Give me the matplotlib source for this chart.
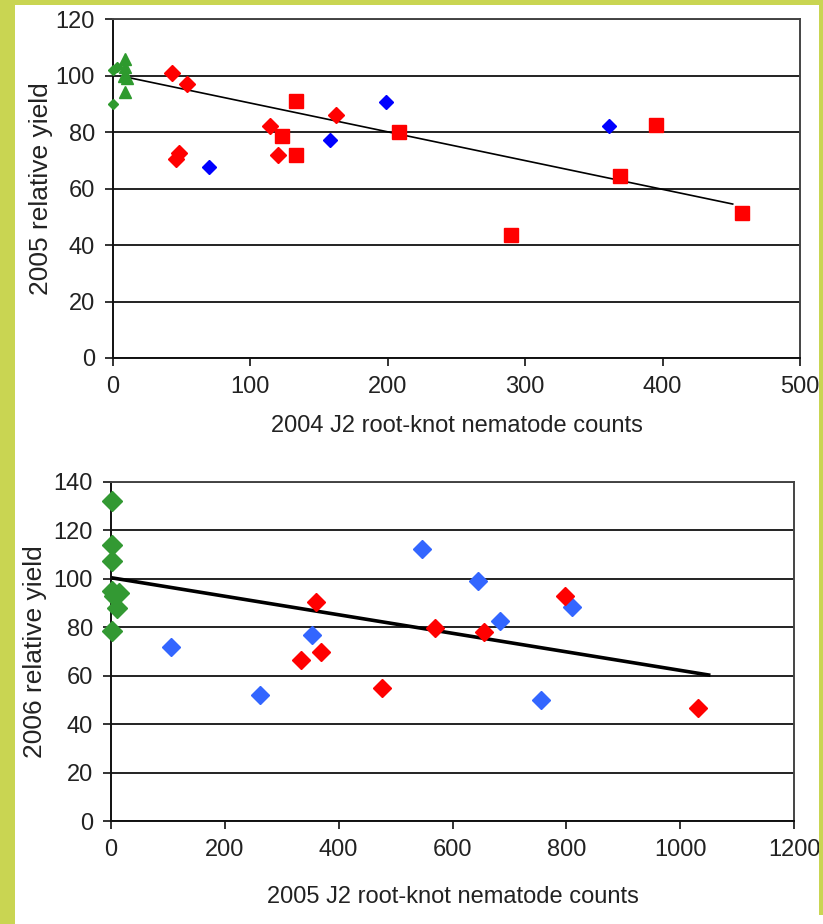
import matplotlib
matplotlib.use("Agg")
import matplotlib.pyplot as plt
from matplotlib.patches import Polygon

plt.rcParams['font.family'] = ['Liberation Sans Narrow', 'Liberation Sans', 'DejaVu Sans']

# --- top panel: 2004 counts vs 2005 yield ---
top_green_tri_x = [9, 9, 8, 10, 9]
top_green_tri_y = [106, 103, 100, 99, 94]
top_green_dot_x = [0, 3, 0]
top_green_dot_y = [102, 103, 90]
top_red_dia_x = [43, 54, 48, 46, 114, 120, 162]
top_red_dia_y = [101, 97, 72.5, 70.5, 82, 72, 86]
top_blue_dia_x = [70, 158, 199, 361]
top_blue_dia_y = [67.5, 77, 90.5, 82]
top_red_sq_x = [133, 123, 133, 208, 395, 369, 290, 458]
top_red_sq_y = [91, 78.5, 72, 80, 82.5, 64.5, 43.5, 51.5]
top_trend_x = [8, 451]
top_trend_y = [99.6, 54.5]

# --- bottom panel: 2005 counts vs 2006 yield ---
bot_green_x = [2, 2, 2, 2, 6, 14, 10, 2]
bot_green_y = [132, 114, 107.5, 95, 93, 94, 88, 78.5]
bot_blue_x = [105, 262, 353, 546, 645, 684, 810, 755]
bot_blue_y = [72, 52, 77, 112.5, 99, 82.5, 88.5, 50]
bot_red_x = [334, 360, 369, 476, 569, 656, 798, 1032]
bot_red_y = [66.5, 90.5, 70, 55, 79.5, 78, 93, 46.5]
bot_trend_x = [2, 1050]
bot_trend_y = [100.4, 60.3]

W, H = 823, 924
fig = plt.figure(figsize=(W / 100, H / 100), dpi=100)
fig.patch.set_facecolor('white')

border = '#c9d552'
fig.patches.append(Polygon([(0, 0), (15 / W, 0), (15 / W, 1), (0, 1)], closed=True,
                           transform=fig.transFigure, facecolor=border, edgecolor='none'))
fig.patches.append(Polygon([(0, 1 - 5 / H), (1, 1 - 5 / H), (1, 1), (0, 1)], closed=True,
                           transform=fig.transFigure, facecolor=border, edgecolor='none'))
fig.patches.append(Polygon([(1 - 4 / W, 0.01), (1, 0.01), (1, 1), (1 - 4 / W, 1)], closed=True,
                           transform=fig.transFigure, facecolor=border, edgecolor='none'))

ax1 = fig.add_axes([113 / W, 1 - 358 / H, (800 - 113) / W, (358 - 19) / H])
ax2 = fig.add_axes([111 / W, 1 - 821 / H, (794 - 111) / W, (821 - 482) / H])


def style(ax, xmax, ymax, xstep, ystep):
    ax.set_xlim(0, xmax)
    ax.set_ylim(0, ymax)
    ax.set_xticks(range(0, xmax + 1, xstep))
    ax.set_yticks(range(0, ymax + 1, ystep))
    ax.yaxis.grid(True, color='#222222', linewidth=1.4)
    ax.set_axisbelow(True)
    for s in ['left', 'bottom']:
        ax.spines[s].set_color('#111111')
        ax.spines[s].set_linewidth(1.4)
    for s in ['right', 'top']:
        ax.spines[s].set_color('#444444')
        ax.spines[s].set_linewidth(1.4)
    ax.tick_params(direction='out', length=6, width=1.2, color='#111111',
                   labelsize=17, pad=7, labelcolor='#222222')


style(ax1, 500, 120, 100, 20)
style(ax2, 1200, 140, 200, 20)

ax1.plot(top_trend_x, top_trend_y, color='black', linewidth=1.2, zorder=2)
ax1.plot(top_green_tri_x, top_green_tri_y, '^', color='#2e9a2e', markersize=9, zorder=3, clip_on=False)
ax1.plot(top_green_dot_x, top_green_dot_y, 'D', color='#2e9a2e', markersize=5, zorder=3, clip_on=False)
ax1.plot(top_red_dia_x, top_red_dia_y, 'D', color='#ff0000', markersize=8, zorder=3)
ax1.plot(top_blue_dia_x, top_blue_dia_y, 'D', color='#0000ff', markersize=7.5, zorder=3)
ax1.plot(top_red_sq_x, top_red_sq_y, 's', color='#ff0000', markersize=10, zorder=3)
ax1.set_xlabel('2004 J2 root-knot nematode counts', fontsize=17, color='#222222', labelpad=12)
ax1.set_ylabel('2005 relative yield', fontsize=19, color='#222222', labelpad=2)

ax2.plot(bot_trend_x, bot_trend_y, color='black', linewidth=2.6, zorder=2)
ax2.plot(bot_green_x, bot_green_y, 'D', color='#339933', markersize=10.5, zorder=3, clip_on=False)
ax2.plot(bot_blue_x, bot_blue_y, 'D', color='#3366ff', markersize=9, zorder=3)
ax2.plot(bot_red_x, bot_red_y, 'D', color='#ff0000', markersize=9, zorder=3)
ax2.set_xlabel('2005 J2 root-knot nematode counts', fontsize=17, color='#222222', labelpad=18)
ax2.set_ylabel('2006 relative yield', fontsize=19, color='#222222', labelpad=5)

fig.savefig('out.png', dpi=100)
